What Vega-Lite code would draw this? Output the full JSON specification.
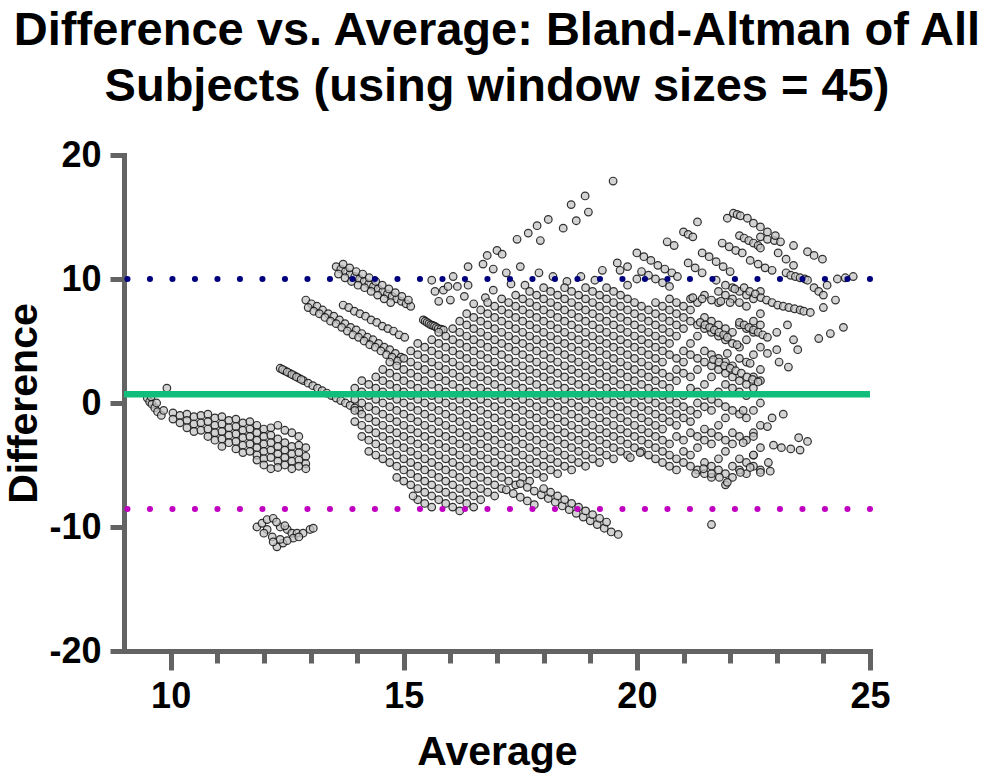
{
"$schema":"https://vega.github.io/schema/vega-lite/v6.json",
"width":746,"height":496,
"autosize":"none",
"padding":{"left":124,"top":155,"right":128,"bottom":128},
"background":"white",
"config":{"view":{"stroke":null},"axis":{"grid":false}},
"title":{"text":["Difference vs. Average: Bland-Altman of All","Subjects (using window sizes = 45)"],"font":"Liberation Sans","fontSize":47,"fontWeight":"bold","color":"#000000","lineHeight":56,"anchor":"middle","offset":26},
"datasets":{
"lims":[{"k":"upper","v":10.0},{"k":"mean","v":0.7},{"k":"lower","v":-8.55}],
"pts":[
{"a":9.5,"d":0.4},{"a":9.55,"d":0.1},{"a":9.6,"d":-0.1},{"a":9.66,"d":-0.4},{"a":9.72,"d":-0.7},{"a":9.8,"d":-1.0},{"a":9.92,"d":1.2},{"a":9.58,"d":0.5},{"a":9.7,"d":0.0},{"a":9.85,"d":-0.6},
{"a":10.05,"d":-0.8},{"a":10.05,"d":-1.3},{"a":10.2,"d":-1.0},{"a":10.2,"d":-1.6},{"a":10.35,"d":-0.9},{"a":10.35,"d":-1.4},{"a":10.35,"d":-2.0},{"a":10.5,"d":-1.1},{"a":10.5,"d":-1.7},{"a":10.5,"d":-2.3},{"a":10.65,"d":-1.0},{"a":10.65,"d":-1.6},{"a":10.65,"d":-2.2},{"a":10.8,"d":-0.9},{"a":10.8,"d":-1.5},{"a":10.8,"d":-2.1},{"a":10.8,"d":-2.7},{"a":10.95,"d":-1.2},{"a":10.95,"d":-1.8},{"a":10.95,"d":-2.4},{"a":10.95,"d":-3.0},{"a":11.1,"d":-1.1},{"a":11.1,"d":-1.7},{"a":11.1,"d":-2.3},{"a":11.1,"d":-2.9},{"a":11.1,"d":-3.5},{"a":11.25,"d":-1.4},{"a":11.25,"d":-2.0},{"a":11.25,"d":-2.6},{"a":11.25,"d":-3.2},{"a":11.4,"d":-1.3},{"a":11.4,"d":-1.9},{"a":11.4,"d":-2.5},{"a":11.4,"d":-3.1},{"a":11.4,"d":-3.7},{"a":11.55,"d":-1.6},{"a":11.55,"d":-2.2},{"a":11.55,"d":-2.8},{"a":11.55,"d":-3.4},{"a":11.55,"d":-4.0},{"a":11.7,"d":-1.5},{"a":11.7,"d":-2.1},{"a":11.7,"d":-2.7},{"a":11.7,"d":-3.3},{"a":11.7,"d":-3.9},{"a":11.85,"d":-1.8},{"a":11.85,"d":-2.4},{"a":11.85,"d":-3.0},{"a":11.85,"d":-3.6},{"a":11.85,"d":-4.2},{"a":11.85,"d":-4.6},{"a":12.0,"d":-2.1},{"a":12.0,"d":-2.7},{"a":12.0,"d":-3.3},{"a":12.0,"d":-3.9},{"a":12.0,"d":-4.5},{"a":12.0,"d":-5.0},{"a":12.15,"d":-2.0},{"a":12.15,"d":-2.6},{"a":12.15,"d":-3.2},{"a":12.15,"d":-3.8},{"a":12.15,"d":-4.4},{"a":12.15,"d":-5.3},{"a":12.3,"d":-1.8},{"a":12.3,"d":-2.9},{"a":12.3,"d":-3.5},{"a":12.3,"d":-4.1},{"a":12.3,"d":-4.7},{"a":12.3,"d":-5.2},{"a":12.45,"d":-2.2},{"a":12.45,"d":-3.2},{"a":12.45,"d":-3.8},{"a":12.45,"d":-4.4},{"a":12.45,"d":-5.0},{"a":12.6,"d":-2.4},{"a":12.6,"d":-3.5},{"a":12.6,"d":-4.1},{"a":12.6,"d":-4.7},{"a":12.6,"d":-5.3},{"a":12.75,"d":-2.7},{"a":12.75,"d":-3.4},{"a":12.75,"d":-4.0},{"a":12.75,"d":-4.6},{"a":12.75,"d":-5.1},{"a":12.9,"d":-3.6},{"a":12.9,"d":-4.3},{"a":12.9,"d":-4.9},{"a":12.9,"d":-5.3},
{"a":11.85,"d":-10.0},{"a":11.96,"d":-9.7},{"a":12.07,"d":-9.4},{"a":12.2,"d":-9.3},{"a":12.07,"d":-10.2},{"a":12.18,"d":-10.8},{"a":12.28,"d":-11.6},{"a":12.41,"d":-11.3},{"a":12.35,"d":-11.0},{"a":12.5,"d":-10.2},{"a":12.35,"d":-10.0},{"a":12.6,"d":-10.5},{"a":12.71,"d":-10.5},{"a":12.63,"d":-10.9},{"a":12.84,"d":-10.5},{"a":12.99,"d":-10.2},{"a":13.06,"d":-10.1},{"a":12.27,"d":-9.6},{"a":12.45,"d":-9.9},{"a":12.0,"d":-10.5},{"a":12.2,"d":-11.2},{"a":12.5,"d":-11.1},{"a":12.75,"d":-10.8},
{"a":12.35,"d":2.8},{"a":12.45,"d":2.6},{"a":12.55,"d":2.4},{"a":12.65,"d":2.2},{"a":12.75,"d":2.0},{"a":12.85,"d":1.8},{"a":12.95,"d":1.6},{"a":13.05,"d":1.4},{"a":13.15,"d":1.2},{"a":13.25,"d":1.0},{"a":13.35,"d":0.8},{"a":13.45,"d":0.6},{"a":13.55,"d":0.4},{"a":13.65,"d":0.2},{"a":13.75,"d":0.0},{"a":13.85,"d":-0.2},{"a":13.95,"d":-0.4},{"a":14.05,"d":-0.6},{"a":12.4,"d":2.7},{"a":12.5,"d":2.5},{"a":12.6,"d":2.3},{"a":12.7,"d":2.1},{"a":12.8,"d":1.9},
{"a":12.9,"d":8.3},{"a":13.02,"d":8.0},{"a":13.14,"d":7.8},{"a":13.26,"d":7.5},{"a":13.38,"d":7.2},{"a":13.5,"d":7.0},{"a":13.62,"d":6.7},{"a":13.74,"d":6.4},{"a":13.86,"d":6.1},{"a":13.98,"d":5.9},{"a":14.1,"d":5.6},{"a":14.22,"d":5.3},{"a":14.34,"d":5.1},{"a":14.46,"d":4.8},{"a":14.58,"d":4.5},{"a":14.7,"d":4.3},{"a":14.82,"d":4.0},{"a":14.94,"d":3.7},
{"a":12.95,"d":7.7},{"a":13.07,"d":7.4},{"a":13.19,"d":7.2},{"a":13.31,"d":6.9},{"a":13.43,"d":6.6},{"a":13.55,"d":6.4},{"a":13.67,"d":6.1},{"a":13.79,"d":5.8},{"a":13.91,"d":5.5},{"a":14.03,"d":5.3},{"a":14.15,"d":5.0},{"a":14.27,"d":4.7},{"a":14.39,"d":4.5},{"a":14.51,"d":4.2},{"a":14.63,"d":3.9},{"a":14.75,"d":3.7},{"a":14.87,"d":3.4},
{"a":13.7,"d":7.9},{"a":13.82,"d":7.7},{"a":13.94,"d":7.4},{"a":14.06,"d":7.2},{"a":14.18,"d":7.0},{"a":14.3,"d":6.7},{"a":14.42,"d":6.5},{"a":14.54,"d":6.2},{"a":14.66,"d":6.0},{"a":14.78,"d":5.8},{"a":14.9,"d":5.5},{"a":15.02,"d":5.3},
{"a":13.55,"d":11.0},{"a":13.65,"d":10.8},{"a":13.75,"d":10.6},{"a":13.85,"d":10.4},{"a":13.95,"d":10.2},{"a":14.05,"d":10.0},{"a":14.15,"d":9.8},{"a":14.25,"d":9.6},{"a":14.35,"d":9.4},{"a":14.45,"d":9.2},{"a":14.55,"d":9.0},{"a":14.65,"d":8.8},{"a":14.75,"d":8.6},{"a":14.85,"d":8.4},{"a":14.95,"d":8.2},{"a":15.05,"d":8.0},{"a":15.15,"d":7.8},
{"a":13.7,"d":11.2},{"a":13.84,"d":10.9},{"a":13.98,"d":10.6},{"a":14.12,"d":10.4},{"a":14.26,"d":10.1},{"a":14.4,"d":9.8},{"a":14.54,"d":9.5},{"a":14.68,"d":9.2},{"a":14.82,"d":8.9},{"a":14.96,"d":8.6},{"a":15.1,"d":8.3},
{"a":13.6,"d":10.4},{"a":13.74,"d":10.1},{"a":13.88,"d":9.8},{"a":14.02,"d":9.5},{"a":14.16,"d":9.3},{"a":14.3,"d":9.0},{"a":14.44,"d":8.7},{"a":14.58,"d":8.4},{"a":14.72,"d":8.1},
{"a":15.42,"d":6.7},{"a":15.46,"d":6.6},{"a":15.5,"d":6.5},{"a":15.54,"d":6.4},{"a":15.58,"d":6.3},{"a":15.62,"d":6.25},{"a":15.66,"d":6.2},{"a":15.7,"d":6.1},{"a":15.74,"d":6.0},{"a":15.8,"d":5.95},{"a":15.85,"d":5.9},
{"a":15.6,"d":9.9},{"a":15.67,"d":9.0},{"a":15.85,"d":9.1},{"a":15.95,"d":9.4},{"a":16.06,"d":10.2},{"a":16.15,"d":9.4},{"a":16.38,"d":9.5},{"a":16.92,"d":9.1},{"a":16.75,"d":8.5},{"a":15.75,"d":8.2},{"a":16.0,"d":8.3},{"a":16.3,"d":8.6},{"a":16.5,"d":8.0},
{"a":16.38,"d":11.0},{"a":16.7,"d":11.2},{"a":16.79,"d":11.9},{"a":16.92,"d":10.8},{"a":17.0,"d":12.3},{"a":17.11,"d":12.0},{"a":17.43,"d":13.2},{"a":17.67,"d":13.7},{"a":17.86,"d":14.3},{"a":17.93,"d":13.1},{"a":18.1,"d":14.8},{"a":18.42,"d":14.1},{"a":18.59,"d":16.0},{"a":18.7,"d":14.7},{"a":18.89,"d":16.7},{"a":18.96,"d":15.4},{"a":19.49,"d":17.9},{"a":17.2,"d":10.5},{"a":17.5,"d":11.0},{"a":17.9,"d":10.5},{"a":18.2,"d":10.2},{"a":18.5,"d":9.8},{"a":17.3,"d":9.6},{"a":17.6,"d":9.5},{"a":18.8,"d":10.2},{"a":19.1,"d":9.9},
{"a":19.26,"d":10.7},{"a":19.58,"d":11.3},{"a":19.64,"d":10.7},{"a":19.8,"d":11.0},{"a":19.8,"d":9.5},{"a":20.0,"d":10.0},
{"a":13.95,"d":-1.5},{"a":13.95,"d":-0.6},{"a":13.95,"d":0.3},{"a":13.95,"d":1.2},
{"a":14.1,"d":-2.7},{"a":14.1,"d":-1.8},{"a":14.1,"d":-0.9},{"a":14.1,"d":0},{"a":14.1,"d":0.9},{"a":14.1,"d":1.8},
{"a":14.25,"d":-3.9},{"a":14.25,"d":-3.0},{"a":14.25,"d":-2.1},{"a":14.25,"d":-1.2},{"a":14.25,"d":-0.3},{"a":14.25,"d":0.6},{"a":14.25,"d":1.5},
{"a":14.4,"d":-4.2},{"a":14.4,"d":-3.3},{"a":14.4,"d":-2.4},{"a":14.4,"d":-1.5},{"a":14.4,"d":-0.6},{"a":14.4,"d":0.3},{"a":14.4,"d":1.2},{"a":14.4,"d":2.1},
{"a":14.55,"d":-4.5},{"a":14.55,"d":-3.6},{"a":14.55,"d":-2.7},{"a":14.55,"d":-1.8},{"a":14.55,"d":-0.9},{"a":14.55,"d":0},{"a":14.55,"d":0.9},{"a":14.55,"d":1.8},{"a":14.55,"d":2.7},
{"a":14.7,"d":-4.8},{"a":14.7,"d":-3.9},{"a":14.7,"d":-3.0},{"a":14.7,"d":-2.1},{"a":14.7,"d":-1.2},{"a":14.7,"d":-0.3},{"a":14.7,"d":0.6},{"a":14.7,"d":1.5},{"a":14.7,"d":2.4},{"a":14.7,"d":3.3},
{"a":14.85,"d":-6.0},{"a":14.85,"d":-5.1},{"a":14.85,"d":-4.2},{"a":14.85,"d":-3.3},{"a":14.85,"d":-2.4},{"a":14.85,"d":-1.5},{"a":14.85,"d":-0.6},{"a":14.85,"d":0.3},{"a":14.85,"d":1.2},{"a":14.85,"d":2.1},{"a":14.85,"d":3.0},
{"a":15.0,"d":-6.3},{"a":15.0,"d":-5.4},{"a":15.0,"d":-4.5},{"a":15.0,"d":-3.6},{"a":15.0,"d":-2.7},{"a":15.0,"d":-1.8},{"a":15.0,"d":-0.9},{"a":15.0,"d":0},{"a":15.0,"d":0.9},{"a":15.0,"d":1.8},{"a":15.0,"d":2.7},{"a":15.0,"d":3.6},
{"a":15.15,"d":-6.6},{"a":15.15,"d":-5.7},{"a":15.15,"d":-4.8},{"a":15.15,"d":-3.9},{"a":15.15,"d":-3.0},{"a":15.15,"d":-2.1},{"a":15.15,"d":-1.2},{"a":15.15,"d":-0.3},{"a":15.15,"d":0.6},{"a":15.15,"d":1.5},{"a":15.15,"d":2.4},{"a":15.15,"d":3.3},{"a":15.15,"d":4.2},
{"a":15.3,"d":-6.9},{"a":15.3,"d":-6.0},{"a":15.3,"d":-5.1},{"a":15.3,"d":-4.2},{"a":15.3,"d":-3.3},{"a":15.3,"d":-2.4},{"a":15.3,"d":-1.5},{"a":15.3,"d":-0.6},{"a":15.3,"d":0.3},{"a":15.3,"d":1.2},{"a":15.3,"d":2.1},{"a":15.3,"d":3.0},{"a":15.3,"d":3.9},{"a":15.3,"d":4.8},
{"a":15.45,"d":-7.2},{"a":15.45,"d":-6.3},{"a":15.45,"d":-5.4},{"a":15.45,"d":-4.5},{"a":15.45,"d":-3.6},{"a":15.45,"d":-2.7},{"a":15.45,"d":-1.8},{"a":15.45,"d":-0.9},{"a":15.45,"d":0},{"a":15.45,"d":0.9},{"a":15.45,"d":1.8},{"a":15.45,"d":2.7},{"a":15.45,"d":3.6},{"a":15.45,"d":4.5},
{"a":15.6,"d":-7.5},{"a":15.6,"d":-6.6},{"a":15.6,"d":-5.7},{"a":15.6,"d":-4.8},{"a":15.6,"d":-3.9},{"a":15.6,"d":-3.0},{"a":15.6,"d":-2.1},{"a":15.6,"d":-1.2},{"a":15.6,"d":-0.3},{"a":15.6,"d":0.6},{"a":15.6,"d":1.5},{"a":15.6,"d":2.4},{"a":15.6,"d":3.3},{"a":15.6,"d":4.2},{"a":15.6,"d":5.1},
{"a":15.75,"d":-7.8},{"a":15.75,"d":-6.9},{"a":15.75,"d":-6.0},{"a":15.75,"d":-5.1},{"a":15.75,"d":-4.2},{"a":15.75,"d":-3.3},{"a":15.75,"d":-2.4},{"a":15.75,"d":-1.5},{"a":15.75,"d":-0.6},{"a":15.75,"d":0.3},{"a":15.75,"d":1.2},{"a":15.75,"d":2.1},{"a":15.75,"d":3.0},{"a":15.75,"d":3.9},{"a":15.75,"d":4.8},{"a":15.75,"d":5.7},
{"a":15.9,"d":-8.1},{"a":15.9,"d":-7.2},{"a":15.9,"d":-6.3},{"a":15.9,"d":-5.4},{"a":15.9,"d":-4.5},{"a":15.9,"d":-3.6},{"a":15.9,"d":-2.7},{"a":15.9,"d":-1.8},{"a":15.9,"d":-0.9},{"a":15.9,"d":0},{"a":15.9,"d":0.9},{"a":15.9,"d":1.8},{"a":15.9,"d":2.7},{"a":15.9,"d":3.6},{"a":15.9,"d":4.5},{"a":15.9,"d":5.4},
{"a":16.05,"d":-7.5},{"a":16.05,"d":-6.6},{"a":16.05,"d":-5.7},{"a":16.05,"d":-4.8},{"a":16.05,"d":-3.9},{"a":16.05,"d":-3.0},{"a":16.05,"d":-2.1},{"a":16.05,"d":-1.2},{"a":16.05,"d":-0.3},{"a":16.05,"d":0.6},{"a":16.05,"d":1.5},{"a":16.05,"d":2.4},{"a":16.05,"d":3.3},{"a":16.05,"d":4.2},{"a":16.05,"d":5.1},{"a":16.05,"d":6.0},
{"a":16.2,"d":-7.8},{"a":16.2,"d":-6.9},{"a":16.2,"d":-6.0},{"a":16.2,"d":-5.1},{"a":16.2,"d":-4.2},{"a":16.2,"d":-3.3},{"a":16.2,"d":-2.4},{"a":16.2,"d":-1.5},{"a":16.2,"d":-0.6},{"a":16.2,"d":0.3},{"a":16.2,"d":1.2},{"a":16.2,"d":2.1},{"a":16.2,"d":3.0},{"a":16.2,"d":3.9},{"a":16.2,"d":4.8},{"a":16.2,"d":5.7},{"a":16.2,"d":6.6},
{"a":16.35,"d":-8.1},{"a":16.35,"d":-7.2},{"a":16.35,"d":-6.3},{"a":16.35,"d":-5.4},{"a":16.35,"d":-4.5},{"a":16.35,"d":-3.6},{"a":16.35,"d":-2.7},{"a":16.35,"d":-1.8},{"a":16.35,"d":-0.9},{"a":16.35,"d":0},{"a":16.35,"d":0.9},{"a":16.35,"d":1.8},{"a":16.35,"d":2.7},{"a":16.35,"d":3.6},{"a":16.35,"d":4.5},{"a":16.35,"d":5.4},{"a":16.35,"d":6.3},{"a":16.35,"d":7.2},
{"a":16.5,"d":-8.4},{"a":16.5,"d":-7.5},{"a":16.5,"d":-6.6},{"a":16.5,"d":-5.7},{"a":16.5,"d":-4.8},{"a":16.5,"d":-3.9},{"a":16.5,"d":-3.0},{"a":16.5,"d":-2.1},{"a":16.5,"d":-1.2},{"a":16.5,"d":-0.3},{"a":16.5,"d":0.6},{"a":16.5,"d":1.5},{"a":16.5,"d":2.4},{"a":16.5,"d":3.3},{"a":16.5,"d":4.2},{"a":16.5,"d":5.1},{"a":16.5,"d":6.0},{"a":16.5,"d":6.9},
{"a":16.65,"d":-7.8},{"a":16.65,"d":-6.9},{"a":16.65,"d":-6.0},{"a":16.65,"d":-5.1},{"a":16.65,"d":-4.2},{"a":16.65,"d":-3.3},{"a":16.65,"d":-2.4},{"a":16.65,"d":-1.5},{"a":16.65,"d":-0.6},{"a":16.65,"d":0.3},{"a":16.65,"d":1.2},{"a":16.65,"d":2.1},{"a":16.65,"d":3.0},{"a":16.65,"d":3.9},{"a":16.65,"d":4.8},{"a":16.65,"d":5.7},{"a":16.65,"d":6.6},{"a":16.65,"d":7.5},
{"a":16.8,"d":-7.2},{"a":16.8,"d":-6.3},{"a":16.8,"d":-5.4},{"a":16.8,"d":-4.5},{"a":16.8,"d":-3.6},{"a":16.8,"d":-2.7},{"a":16.8,"d":-1.8},{"a":16.8,"d":-0.9},{"a":16.8,"d":0},{"a":16.8,"d":0.9},{"a":16.8,"d":1.8},{"a":16.8,"d":2.7},{"a":16.8,"d":3.6},{"a":16.8,"d":4.5},{"a":16.8,"d":5.4},{"a":16.8,"d":6.3},{"a":16.8,"d":7.2},{"a":16.8,"d":8.1},
{"a":16.95,"d":-7.5},{"a":16.95,"d":-6.6},{"a":16.95,"d":-5.7},{"a":16.95,"d":-4.8},{"a":16.95,"d":-3.9},{"a":16.95,"d":-3.0},{"a":16.95,"d":-2.1},{"a":16.95,"d":-1.2},{"a":16.95,"d":-0.3},{"a":16.95,"d":0.6},{"a":16.95,"d":1.5},{"a":16.95,"d":2.4},{"a":16.95,"d":3.3},{"a":16.95,"d":4.2},{"a":16.95,"d":5.1},{"a":16.95,"d":6.0},{"a":16.95,"d":6.9},{"a":16.95,"d":7.8},
{"a":17.1,"d":-6.9},{"a":17.1,"d":-6.0},{"a":17.1,"d":-5.1},{"a":17.1,"d":-4.2},{"a":17.1,"d":-3.3},{"a":17.1,"d":-2.4},{"a":17.1,"d":-1.5},{"a":17.1,"d":-0.6},{"a":17.1,"d":0.3},{"a":17.1,"d":1.2},{"a":17.1,"d":2.1},{"a":17.1,"d":3.0},{"a":17.1,"d":3.9},{"a":17.1,"d":4.8},{"a":17.1,"d":5.7},{"a":17.1,"d":6.6},{"a":17.1,"d":7.5},{"a":17.1,"d":8.4},
{"a":17.25,"d":-6.3},{"a":17.25,"d":-5.4},{"a":17.25,"d":-4.5},{"a":17.25,"d":-3.6},{"a":17.25,"d":-2.7},{"a":17.25,"d":-1.8},{"a":17.25,"d":-0.9},{"a":17.25,"d":0},{"a":17.25,"d":0.9},{"a":17.25,"d":1.8},{"a":17.25,"d":2.7},{"a":17.25,"d":3.6},{"a":17.25,"d":4.5},{"a":17.25,"d":5.4},{"a":17.25,"d":6.3},{"a":17.25,"d":7.2},{"a":17.25,"d":8.1},
{"a":17.4,"d":-6.6},{"a":17.4,"d":-5.7},{"a":17.4,"d":-4.8},{"a":17.4,"d":-3.9},{"a":17.4,"d":-3.0},{"a":17.4,"d":-2.1},{"a":17.4,"d":-1.2},{"a":17.4,"d":-0.3},{"a":17.4,"d":0.6},{"a":17.4,"d":1.5},{"a":17.4,"d":2.4},{"a":17.4,"d":3.3},{"a":17.4,"d":4.2},{"a":17.4,"d":5.1},{"a":17.4,"d":6.0},{"a":17.4,"d":6.9},{"a":17.4,"d":7.8},{"a":17.4,"d":8.7},
{"a":17.55,"d":-6.0},{"a":17.55,"d":-5.1},{"a":17.55,"d":-4.2},{"a":17.55,"d":-3.3},{"a":17.55,"d":-2.4},{"a":17.55,"d":-1.5},{"a":17.55,"d":-0.6},{"a":17.55,"d":0.3},{"a":17.55,"d":1.2},{"a":17.55,"d":2.1},{"a":17.55,"d":3.0},{"a":17.55,"d":3.9},{"a":17.55,"d":4.8},{"a":17.55,"d":5.7},{"a":17.55,"d":6.6},{"a":17.55,"d":7.5},{"a":17.55,"d":8.4},
{"a":17.7,"d":-6.3},{"a":17.7,"d":-5.4},{"a":17.7,"d":-4.5},{"a":17.7,"d":-3.6},{"a":17.7,"d":-2.7},{"a":17.7,"d":-1.8},{"a":17.7,"d":-0.9},{"a":17.7,"d":0},{"a":17.7,"d":0.9},{"a":17.7,"d":1.8},{"a":17.7,"d":2.7},{"a":17.7,"d":3.6},{"a":17.7,"d":4.5},{"a":17.7,"d":5.4},{"a":17.7,"d":6.3},{"a":17.7,"d":7.2},{"a":17.7,"d":8.1},{"a":17.7,"d":9.0},
{"a":17.85,"d":-5.7},{"a":17.85,"d":-4.8},{"a":17.85,"d":-3.9},{"a":17.85,"d":-3.0},{"a":17.85,"d":-2.1},{"a":17.85,"d":-1.2},{"a":17.85,"d":-0.3},{"a":17.85,"d":0.6},{"a":17.85,"d":1.5},{"a":17.85,"d":2.4},{"a":17.85,"d":3.3},{"a":17.85,"d":4.2},{"a":17.85,"d":5.1},{"a":17.85,"d":6.0},{"a":17.85,"d":6.9},{"a":17.85,"d":7.8},{"a":17.85,"d":8.7},
{"a":18.0,"d":-6.0},{"a":18.0,"d":-5.1},{"a":18.0,"d":-4.2},{"a":18.0,"d":-3.3},{"a":18.0,"d":-2.4},{"a":18.0,"d":-1.5},{"a":18.0,"d":-0.6},{"a":18.0,"d":0.3},{"a":18.0,"d":1.2},{"a":18.0,"d":2.1},{"a":18.0,"d":3.0},{"a":18.0,"d":3.9},{"a":18.0,"d":4.8},{"a":18.0,"d":5.7},{"a":18.0,"d":6.6},{"a":18.0,"d":7.5},{"a":18.0,"d":8.4},{"a":18.0,"d":9.3},
{"a":18.15,"d":-5.4},{"a":18.15,"d":-4.5},{"a":18.15,"d":-3.6},{"a":18.15,"d":-2.7},{"a":18.15,"d":-1.8},{"a":18.15,"d":-0.9},{"a":18.15,"d":0},{"a":18.15,"d":0.9},{"a":18.15,"d":1.8},{"a":18.15,"d":2.7},{"a":18.15,"d":3.6},{"a":18.15,"d":4.5},{"a":18.15,"d":5.4},{"a":18.15,"d":6.3},{"a":18.15,"d":7.2},{"a":18.15,"d":8.1},{"a":18.15,"d":9.0},
{"a":18.3,"d":-5.7},{"a":18.3,"d":-4.8},{"a":18.3,"d":-3.9},{"a":18.3,"d":-3.0},{"a":18.3,"d":-2.1},{"a":18.3,"d":-1.2},{"a":18.3,"d":-0.3},{"a":18.3,"d":0.6},{"a":18.3,"d":1.5},{"a":18.3,"d":2.4},{"a":18.3,"d":3.3},{"a":18.3,"d":4.2},{"a":18.3,"d":5.1},{"a":18.3,"d":6.0},{"a":18.3,"d":6.9},{"a":18.3,"d":7.8},{"a":18.3,"d":8.7},
{"a":18.45,"d":-5.1},{"a":18.45,"d":-4.2},{"a":18.45,"d":-3.3},{"a":18.45,"d":-2.4},{"a":18.45,"d":-1.5},{"a":18.45,"d":-0.6},{"a":18.45,"d":0.3},{"a":18.45,"d":1.2},{"a":18.45,"d":2.1},{"a":18.45,"d":3.0},{"a":18.45,"d":3.9},{"a":18.45,"d":4.8},{"a":18.45,"d":5.7},{"a":18.45,"d":6.6},{"a":18.45,"d":7.5},{"a":18.45,"d":8.4},{"a":18.45,"d":9.3},
{"a":18.6,"d":-5.4},{"a":18.6,"d":-4.5},{"a":18.6,"d":-3.6},{"a":18.6,"d":-2.7},{"a":18.6,"d":-1.8},{"a":18.6,"d":-0.9},{"a":18.6,"d":0},{"a":18.6,"d":0.9},{"a":18.6,"d":1.8},{"a":18.6,"d":2.7},{"a":18.6,"d":3.6},{"a":18.6,"d":4.5},{"a":18.6,"d":5.4},{"a":18.6,"d":6.3},{"a":18.6,"d":7.2},{"a":18.6,"d":8.1},{"a":18.6,"d":9.0},
{"a":18.75,"d":-4.8},{"a":18.75,"d":-3.9},{"a":18.75,"d":-3.0},{"a":18.75,"d":-2.1},{"a":18.75,"d":-1.2},{"a":18.75,"d":-0.3},{"a":18.75,"d":0.6},{"a":18.75,"d":1.5},{"a":18.75,"d":2.4},{"a":18.75,"d":3.3},{"a":18.75,"d":4.2},{"a":18.75,"d":5.1},{"a":18.75,"d":6.0},{"a":18.75,"d":6.9},{"a":18.75,"d":7.8},{"a":18.75,"d":8.7},
{"a":18.9,"d":-5.1},{"a":18.9,"d":-4.2},{"a":18.9,"d":-3.3},{"a":18.9,"d":-2.4},{"a":18.9,"d":-1.5},{"a":18.9,"d":-0.6},{"a":18.9,"d":0.3},{"a":18.9,"d":1.2},{"a":18.9,"d":2.1},{"a":18.9,"d":3.0},{"a":18.9,"d":3.9},{"a":18.9,"d":4.8},{"a":18.9,"d":5.7},{"a":18.9,"d":6.6},{"a":18.9,"d":7.5},{"a":18.9,"d":8.4},{"a":18.9,"d":9.3},
{"a":19.05,"d":-4.5},{"a":19.05,"d":-3.6},{"a":19.05,"d":-2.7},{"a":19.05,"d":-1.8},{"a":19.05,"d":-0.9},{"a":19.05,"d":0},{"a":19.05,"d":0.9},{"a":19.05,"d":1.8},{"a":19.05,"d":2.7},{"a":19.05,"d":3.6},{"a":19.05,"d":4.5},{"a":19.05,"d":5.4},{"a":19.05,"d":6.3},{"a":19.05,"d":7.2},{"a":19.05,"d":8.1},{"a":19.05,"d":9.0},
{"a":19.2,"d":-4.8},{"a":19.2,"d":-3.9},{"a":19.2,"d":-3.0},{"a":19.2,"d":-2.1},{"a":19.2,"d":-1.2},{"a":19.2,"d":-0.3},{"a":19.2,"d":0.6},{"a":19.2,"d":1.5},{"a":19.2,"d":2.4},{"a":19.2,"d":3.3},{"a":19.2,"d":4.2},{"a":19.2,"d":5.1},{"a":19.2,"d":6.0},{"a":19.2,"d":6.9},{"a":19.2,"d":7.8},{"a":19.2,"d":8.7},
{"a":19.35,"d":-4.2},{"a":19.35,"d":-3.3},{"a":19.35,"d":-2.4},{"a":19.35,"d":-1.5},{"a":19.35,"d":-0.6},{"a":19.35,"d":0.3},{"a":19.35,"d":1.2},{"a":19.35,"d":2.1},{"a":19.35,"d":3.0},{"a":19.35,"d":3.9},{"a":19.35,"d":4.8},{"a":19.35,"d":5.7},{"a":19.35,"d":6.6},{"a":19.35,"d":7.5},{"a":19.35,"d":8.4},{"a":19.35,"d":9.3},
{"a":19.5,"d":-4.5},{"a":19.5,"d":-3.6},{"a":19.5,"d":-2.7},{"a":19.5,"d":-1.8},{"a":19.5,"d":-0.9},{"a":19.5,"d":0},{"a":19.5,"d":0.9},{"a":19.5,"d":1.8},{"a":19.5,"d":2.7},{"a":19.5,"d":3.6},{"a":19.5,"d":4.5},{"a":19.5,"d":5.4},{"a":19.5,"d":6.3},{"a":19.5,"d":7.2},{"a":19.5,"d":8.1},{"a":19.5,"d":9.0},
{"a":19.65,"d":-3.9},{"a":19.65,"d":-3.0},{"a":19.65,"d":-2.1},{"a":19.65,"d":-1.2},{"a":19.65,"d":-0.3},{"a":19.65,"d":0.6},{"a":19.65,"d":1.5},{"a":19.65,"d":2.4},{"a":19.65,"d":3.3},{"a":19.65,"d":4.2},{"a":19.65,"d":5.1},{"a":19.65,"d":6.0},{"a":19.65,"d":6.9},{"a":19.65,"d":7.8},{"a":19.65,"d":8.7},
{"a":19.8,"d":-4.2},{"a":19.8,"d":-3.3},{"a":19.8,"d":-2.4},{"a":19.8,"d":-1.5},{"a":19.8,"d":-0.6},{"a":19.8,"d":0.3},{"a":19.8,"d":1.2},{"a":19.8,"d":2.1},{"a":19.8,"d":3.0},{"a":19.8,"d":3.9},{"a":19.8,"d":4.8},{"a":19.8,"d":5.7},{"a":19.8,"d":6.6},{"a":19.8,"d":7.5},{"a":19.8,"d":8.4},
{"a":19.95,"d":-3.6},{"a":19.95,"d":-2.7},{"a":19.95,"d":-1.8},{"a":19.95,"d":-0.9},{"a":19.95,"d":0},{"a":19.95,"d":0.9},{"a":19.95,"d":1.8},{"a":19.95,"d":2.7},{"a":19.95,"d":3.6},{"a":19.95,"d":4.5},{"a":19.95,"d":5.4},{"a":19.95,"d":6.3},{"a":19.95,"d":7.2},{"a":19.95,"d":8.1},
{"a":20.1,"d":-3.9},{"a":20.1,"d":-3.0},{"a":20.1,"d":-2.1},{"a":20.1,"d":-1.2},{"a":20.1,"d":-0.3},{"a":20.1,"d":0.6},{"a":20.1,"d":1.5},{"a":20.1,"d":2.4},{"a":20.1,"d":3.3},{"a":20.1,"d":4.2},{"a":20.1,"d":5.1},{"a":20.1,"d":6.0},{"a":20.1,"d":6.9},{"a":20.1,"d":7.8},
{"a":20.25,"d":-4.2},{"a":20.25,"d":-3.3},{"a":20.25,"d":-2.4},{"a":20.25,"d":-1.5},{"a":20.25,"d":-0.6},{"a":20.25,"d":0.3},{"a":20.25,"d":1.2},{"a":20.25,"d":2.1},{"a":20.25,"d":3.0},{"a":20.25,"d":3.9},{"a":20.25,"d":4.8},{"a":20.25,"d":5.7},{"a":20.25,"d":6.6},{"a":20.25,"d":7.5},
{"a":20.4,"d":-4.5},{"a":20.4,"d":-3.6},{"a":20.4,"d":-2.7},{"a":20.4,"d":-1.8},{"a":20.4,"d":-0.9},{"a":20.4,"d":0},{"a":20.4,"d":0.9},{"a":20.4,"d":1.8},{"a":20.4,"d":2.7},{"a":20.4,"d":3.6},{"a":20.4,"d":4.5},{"a":20.4,"d":5.4},{"a":20.4,"d":6.3},{"a":20.4,"d":7.2},{"a":20.4,"d":8.1},
{"a":20.55,"d":-4.8},{"a":20.55,"d":-3.9},{"a":20.55,"d":-3.0},{"a":20.55,"d":-2.1},{"a":20.55,"d":-1.2},{"a":20.55,"d":-0.3},{"a":20.55,"d":0.6},{"a":20.55,"d":1.5},{"a":20.55,"d":2.4},{"a":20.55,"d":3.3},{"a":20.55,"d":4.2},{"a":20.55,"d":5.1},{"a":20.55,"d":6.0},{"a":20.55,"d":6.9},{"a":20.55,"d":7.8},
{"a":20.7,"d":-5.1},{"a":20.7,"d":-4.2},{"a":20.7,"d":-3.3},{"a":20.7,"d":-1.5},{"a":20.7,"d":-0.6},{"a":20.7,"d":0.3},{"a":20.7,"d":1.2},{"a":20.7,"d":2.1},{"a":20.7,"d":3.9},{"a":20.7,"d":4.8},{"a":20.7,"d":5.7},{"a":20.7,"d":6.6},{"a":20.7,"d":7.5},{"a":20.7,"d":8.4},
{"a":20.85,"d":-5.4},{"a":20.85,"d":-4.5},{"a":20.85,"d":-2.7},{"a":20.85,"d":-1.8},{"a":20.85,"d":-0.9},{"a":20.85,"d":0},{"a":20.85,"d":1.8},{"a":20.85,"d":2.7},{"a":20.85,"d":3.6},{"a":20.85,"d":5.4},{"a":20.85,"d":6.3},{"a":20.85,"d":7.2},{"a":20.85,"d":8.1},
{"a":21.0,"d":-4.8},{"a":21.0,"d":-3.9},{"a":21.0,"d":-3.0},{"a":21.0,"d":-1.2},{"a":21.0,"d":-0.3},{"a":21.0,"d":0.6},{"a":21.0,"d":2.4},{"a":21.0,"d":3.3},{"a":21.0,"d":4.2},{"a":21.0,"d":6.0},{"a":21.0,"d":6.9},{"a":21.0,"d":7.8},
{"a":21.15,"d":-5.1},{"a":21.15,"d":-4.2},{"a":21.15,"d":-2.4},{"a":21.15,"d":-1.5},{"a":21.15,"d":-0.6},{"a":21.15,"d":1.2},{"a":21.15,"d":2.1},{"a":21.15,"d":3.9},{"a":21.15,"d":4.8},{"a":21.15,"d":6.6},{"a":21.15,"d":7.5},{"a":21.15,"d":8.4},
{"a":21.3,"d":-5.4},{"a":21.3,"d":-3.6},{"a":21.3,"d":-2.7},{"a":21.3,"d":-0.9},{"a":21.3,"d":0},{"a":21.3,"d":0.9},{"a":21.3,"d":2.7},{"a":21.3,"d":3.6},{"a":21.3,"d":5.4},{"a":21.3,"d":6.3},{"a":21.3,"d":8.1},
{"a":21.45,"d":-5.7},{"a":21.45,"d":-4.8},{"a":21.45,"d":-3.0},{"a":21.45,"d":-2.1},{"a":21.45,"d":-0.3},{"a":21.45,"d":0.6},{"a":21.45,"d":1.5},{"a":21.45,"d":3.3},{"a":21.45,"d":4.2},{"a":21.45,"d":6.0},{"a":21.45,"d":6.9},{"a":21.45,"d":8.7},
{"a":21.6,"d":-6.0},{"a":21.6,"d":-5.1},{"a":21.6,"d":-3.3},{"a":21.6,"d":-2.4},{"a":21.6,"d":-0.6},{"a":21.6,"d":0.3},{"a":21.6,"d":2.1},{"a":21.6,"d":3.0},{"a":21.6,"d":3.9},{"a":21.6,"d":5.7},{"a":21.6,"d":6.6},
{"a":21.75,"d":-5.4},{"a":21.75,"d":-4.5},{"a":21.75,"d":-2.7},{"a":21.75,"d":-1.8},{"a":21.75,"d":0},{"a":21.75,"d":0.9},{"a":21.75,"d":2.7},{"a":21.75,"d":3.6},{"a":21.75,"d":5.4},{"a":21.75,"d":6.3},{"a":21.75,"d":8.1},{"a":21.75,"d":9.0},
{"a":21.9,"d":-6.6},{"a":21.9,"d":-5.7},{"a":21.9,"d":-3.9},{"a":21.9,"d":-3.0},{"a":21.9,"d":-1.2},{"a":21.9,"d":-0.3},{"a":21.9,"d":1.5},{"a":21.9,"d":2.4},{"a":21.9,"d":3.3},{"a":21.9,"d":5.1},{"a":21.9,"d":6.0},{"a":21.9,"d":8.7},
{"a":22.05,"d":-6.0},{"a":22.05,"d":-5.1},{"a":22.05,"d":-3.3},{"a":22.05,"d":-2.4},{"a":22.05,"d":-0.6},{"a":22.05,"d":1.2},{"a":22.05,"d":2.1},{"a":22.05,"d":3.0},{"a":22.05,"d":4.8},{"a":22.05,"d":5.7},{"a":22.05,"d":8.4},{"a":22.05,"d":9.3},
{"a":22.2,"d":-5.4},{"a":22.2,"d":-4.5},{"a":22.2,"d":-2.7},{"a":22.2,"d":-0.9},{"a":22.2,"d":0.9},{"a":22.2,"d":1.8},{"a":22.2,"d":3.6},{"a":22.2,"d":4.5},{"a":22.2,"d":6.3},{"a":22.2,"d":8.1},{"a":22.2,"d":9.0},
{"a":22.35,"d":-5.7},{"a":22.35,"d":-4.8},{"a":22.35,"d":-3.0},{"a":22.35,"d":-1.2},{"a":22.35,"d":0.6},{"a":22.35,"d":1.5},{"a":22.35,"d":3.3},{"a":22.35,"d":5.1},{"a":22.35,"d":6.0},{"a":22.35,"d":7.8},{"a":22.35,"d":8.7},
{"a":22.5,"d":-5.1},{"a":22.5,"d":-4.2},{"a":22.5,"d":-2.4},{"a":22.5,"d":-0.6},{"a":22.5,"d":1.2},{"a":22.5,"d":2.1},{"a":22.5,"d":3.9},{"a":22.5,"d":5.7},{"a":22.5,"d":6.6},{"a":22.5,"d":8.4},
{"a":22.65,"d":-5.4},{"a":22.65,"d":-3.6},{"a":22.65,"d":-1.8},{"a":22.65,"d":0},{"a":22.65,"d":1.8},{"a":22.65,"d":2.7},{"a":22.65,"d":4.5},{"a":22.65,"d":6.3},{"a":22.65,"d":7.2},{"a":22.65,"d":9.0},
{"a":20.0,"d":12.1},{"a":20.15,"d":11.8},{"a":20.3,"d":11.5},{"a":20.45,"d":11.1},{"a":20.6,"d":10.8},{"a":20.75,"d":10.5},{"a":20.87,"d":10.2},
{"a":20.1,"d":10.6},{"a":20.25,"d":10.3},{"a":20.4,"d":10.0},{"a":20.55,"d":9.7},{"a":20.7,"d":9.4},
{"a":20.65,"d":13.0},{"a":20.8,"d":12.7},{"a":21.0,"d":13.8},{"a":21.1,"d":13.6},{"a":21.2,"d":13.4},{"a":21.3,"d":14.6},
{"a":21.1,"d":11.3},{"a":21.25,"d":10.9},{"a":21.4,"d":10.5},
{"a":21.4,"d":12.1},{"a":21.55,"d":11.8},{"a":21.7,"d":11.4},{"a":21.85,"d":11.0},{"a":22.0,"d":10.6},
{"a":21.83,"d":12.9},{"a":21.98,"d":12.6},{"a":22.12,"d":12.3},{"a":22.26,"d":12.1},
{"a":22.2,"d":13.5},{"a":22.3,"d":13.3},{"a":22.4,"d":13.1},{"a":22.5,"d":12.9},{"a":22.6,"d":12.7},{"a":22.65,"d":12.5},
{"a":22.65,"d":13.4},{"a":22.8,"d":13.2},{"a":22.95,"d":13.1},{"a":23.08,"d":13.0},
{"a":21.94,"d":14.9},{"a":22.07,"d":15.3},{"a":22.15,"d":15.2},{"a":22.22,"d":15.1},{"a":22.37,"d":14.9},{"a":22.5,"d":14.5},{"a":22.65,"d":14.2},{"a":22.8,"d":13.8},{"a":22.97,"d":13.5},
{"a":23.36,"d":12.7},{"a":23.66,"d":12.2},{"a":23.8,"d":11.9},{"a":23.98,"d":11.6},
{"a":23.03,"d":12.1},{"a":23.2,"d":11.6},{"a":23.36,"d":11.1},
{"a":22.43,"d":11.5},{"a":22.6,"d":11.2},{"a":22.75,"d":10.9},{"a":22.9,"d":10.7},
{"a":23.2,"d":10.5},{"a":23.3,"d":10.3},{"a":23.4,"d":10.2},{"a":23.5,"d":10.1},{"a":23.6,"d":10.0},{"a":23.66,"d":9.9},
{"a":21.7,"d":9.9},{"a":21.9,"d":9.5},{"a":22.1,"d":9.2},
{"a":22.3,"d":9.3},{"a":22.42,"d":9.0},{"a":22.54,"d":8.8},{"a":22.66,"d":8.5},{"a":22.78,"d":8.3},{"a":22.9,"d":8.1},{"a":23.02,"d":7.9},{"a":23.14,"d":7.8},{"a":23.26,"d":7.7},{"a":23.38,"d":7.6},{"a":23.5,"d":7.5},
{"a":23.8,"d":9.3},{"a":23.9,"d":9.0},{"a":24.0,"d":8.7},{"a":24.08,"d":9.5},{"a":24.26,"d":8.3},{"a":24.0,"d":7.7},{"a":24.64,"d":10.2},{"a":24.3,"d":10.0},{"a":24.47,"d":10.1},
{"a":23.58,"d":7.4},{"a":23.72,"d":7.3},
{"a":23.23,"d":6.3},{"a":24.43,"d":6.1},{"a":24.15,"d":5.6},{"a":23.9,"d":5.2},{"a":23.36,"d":5.1},{"a":23.45,"d":4.3},
{"a":21.2,"d":8.5},{"a":21.4,"d":8.4},{"a":21.6,"d":8.3},{"a":21.8,"d":8.2},{"a":22.0,"d":8.1},
{"a":21.36,"d":6.5},{"a":21.46,"d":6.3},{"a":21.56,"d":6.1},{"a":21.66,"d":5.9},{"a":21.76,"d":5.7},{"a":21.86,"d":5.5},{"a":21.94,"d":5.3},
{"a":22.2,"d":6.5},{"a":22.3,"d":6.3},{"a":22.4,"d":6.1},{"a":22.5,"d":5.9},{"a":22.6,"d":5.7},{"a":22.7,"d":5.5},{"a":22.8,"d":5.3},
{"a":23.0,"d":5.7},{"a":21.94,"d":4.0},{"a":22.15,"d":4.7},{"a":22.8,"d":4.0},{"a":23.0,"d":4.3},{"a":23.05,"d":3.3},{"a":23.25,"d":2.9},{"a":22.43,"d":3.2},
{"a":21.64,"d":3.5},{"a":21.76,"d":3.3},{"a":21.88,"d":3.0},{"a":22.0,"d":2.8},{"a":22.12,"d":2.6},{"a":22.24,"d":2.4},{"a":22.36,"d":2.1},{"a":22.48,"d":1.9},{"a":22.6,"d":1.7},
{"a":22.28,"d":-0.6},{"a":22.9,"d":-1.2},{"a":23.14,"d":-0.9},{"a":22.8,"d":-1.9},{"a":22.93,"d":-3.4},{"a":23.1,"d":-3.6},{"a":23.3,"d":-3.7},{"a":23.5,"d":-3.8},{"a":23.47,"d":-2.8},{"a":23.66,"d":-3.1},{"a":22.5,"d":-2.7},{"a":22.28,"d":-3.2},{"a":22.5,"d":-4.2},{"a":22.82,"d":-4.8},{"a":22.86,"d":-5.5},{"a":22.65,"d":-5.6},{"a":22.43,"d":-5.2},{"a":22.22,"d":-5.6},{"a":21.43,"d":-5.3},{"a":21.6,"d":-5.7},{"a":21.77,"d":-6.0},{"a":21.94,"d":-6.4},{"a":21.26,"d":-5.7},{"a":21.6,"d":-9.8},{"a":19.86,"d":-4.4},{"a":20.07,"d":-4.0},
{"a":17.5,"d":-6.5},{"a":17.65,"d":-6.8},{"a":17.8,"d":-7.1},{"a":17.95,"d":-7.4},{"a":18.1,"d":-7.7},{"a":18.25,"d":-8.0},{"a":18.4,"d":-8.3},{"a":18.55,"d":-8.6},{"a":18.7,"d":-8.9},{"a":18.85,"d":-9.2},{"a":19.0,"d":-9.5},{"a":19.15,"d":-9.8},{"a":19.3,"d":-10.1},{"a":19.45,"d":-10.4},{"a":19.6,"d":-10.6},
{"a":18.0,"d":-6.9},{"a":18.15,"d":-7.2},{"a":18.3,"d":-7.5},{"a":18.45,"d":-7.8},{"a":18.6,"d":-8.1},{"a":18.75,"d":-8.4},{"a":18.9,"d":-8.7},{"a":19.05,"d":-9.0},{"a":19.2,"d":-9.3},{"a":19.35,"d":-9.6},
{"a":17.2,"d":-7.0},{"a":17.35,"d":-7.3},{"a":17.5,"d":-7.6},{"a":17.65,"d":-7.9},{"a":17.8,"d":-8.2},
{"a":15.3,"d":-7.8},{"a":15.45,"d":-8.1},{"a":15.6,"d":-8.4},{"a":15.2,"d":-7.5},{"a":16.05,"d":-8.4},{"a":16.2,"d":-8.7}
]},
"layer":[
{"data":{"name":"pts"},
 "mark":{"type":"point","shape":"circle","filled":true,"size":58,"fill":"#c4c4c4","fillOpacity":0.75,"stroke":"#111111","strokeOpacity":0.85,"strokeWidth":1.2},
 "encoding":{
  "x":{"field":"a","type":"quantitative","scale":{"domain":[9,25],"nice":false,"zero":false},
   "axis":{"title":"Average","values":[10,11,12,13,14,15,16,17,18,19,20,21,22,23,24,25],
    "labelExpr":"datum.value % 5 === 0 ? datum.label : ''",
    "tickSize":{"condition":{"test":"datum.value % 5 === 0","value":19},"value":12},
    "tickWidth":5,"tickColor":"#636363","domainColor":"#636363","domainWidth":5,"domainCap":"square",
    "labelFont":"Liberation Sans","labelFontSize":36,"labelFontWeight":"bold","labelColor":"#000000","labelPadding":9,"labelOverlap":false,"labelFlush":false,
    "titleFont":"Liberation Sans","titleFontSize":41,"titleFontWeight":"bold","titleColor":"#000000","titlePadding":18}},
  "y":{"field":"d","type":"quantitative","scale":{"domain":[-20,20],"nice":false,"zero":false},
   "axis":{"title":"Difference","values":[-20,-10,0,10,20],
    "labelExpr":"datum.value < 0 ? '-' + (-datum.value) : '' + datum.value",
    "tickSize":14,"tickWidth":5,"tickColor":"#636363","domainColor":"#636363","domainWidth":5,"domainCap":"square",
    "labelFont":"Liberation Sans","labelFontSize":36,"labelFontWeight":"bold","labelColor":"#000000","labelPadding":9,"labelOverlap":false,"labelFlush":false,
    "titleFont":"Liberation Sans","titleFontSize":41,"titleFontWeight":"bold","titleColor":"#000000","titlePadding":3}}
 }},
{"data":{"name":"lims"},"transform":[{"filter":"datum.k === 'mean'"}],
 "mark":{"type":"rule","color":"#10bd7b","strokeWidth":6.5},
 "encoding":{"y":{"field":"v","type":"quantitative","title":"Difference"}}},
{"data":{"name":"lims"},"transform":[{"filter":"datum.k === 'upper'"}],
 "mark":{"type":"rule","color":"#00007f","strokeWidth":6,"strokeDash":[0.1,22.4],"strokeCap":"round"},
 "encoding":{"y":{"field":"v","type":"quantitative","title":"Difference"}}},
{"data":{"name":"lims"},"transform":[{"filter":"datum.k === 'lower'"}],
 "mark":{"type":"rule","color":"#c000c0","strokeWidth":6,"strokeDash":[0.1,22.4],"strokeCap":"round"},
 "encoding":{"y":{"field":"v","type":"quantitative","title":"Difference"}}}
]
}
